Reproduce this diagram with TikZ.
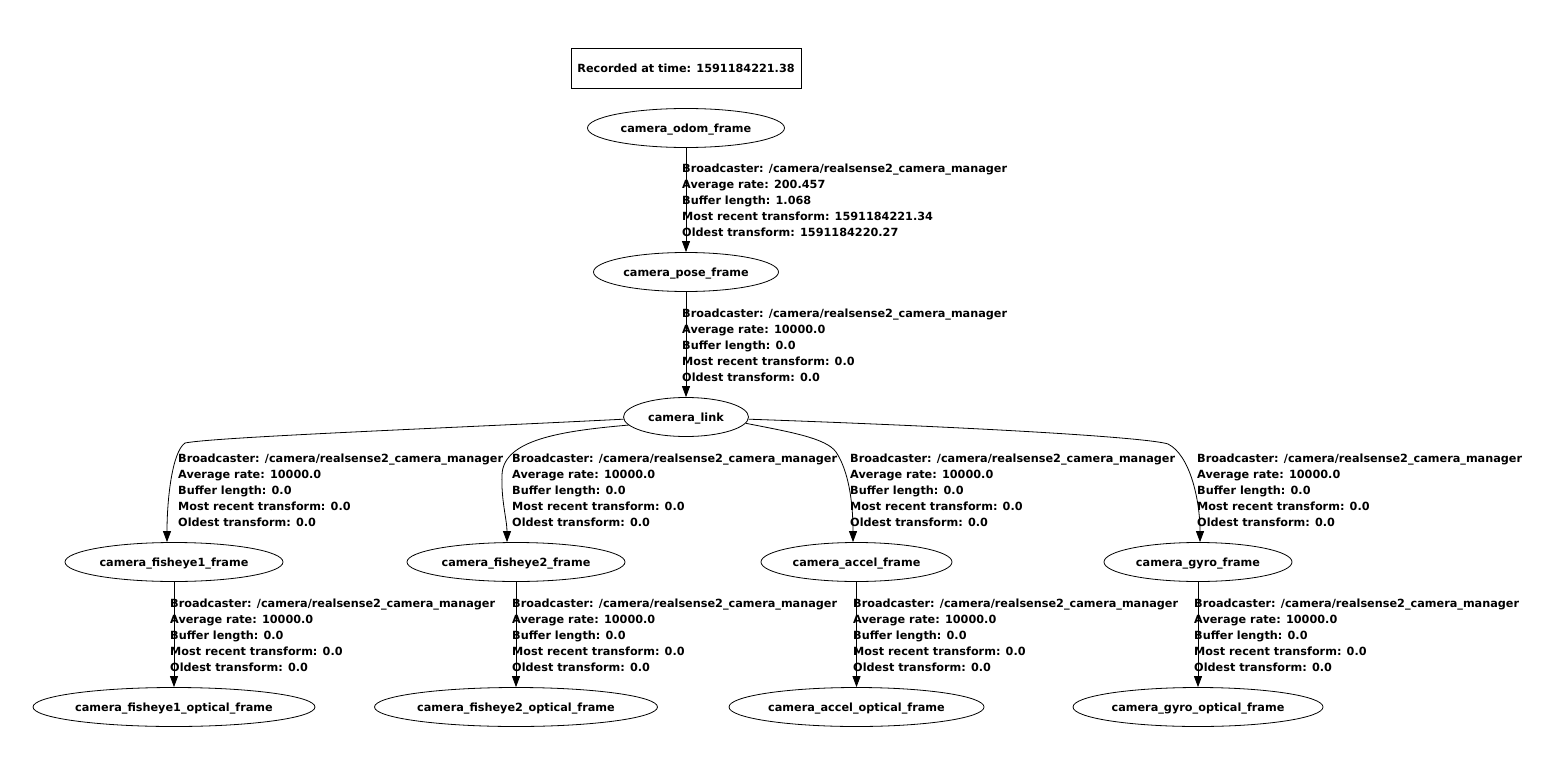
\documentclass[tikz,border=0pt]{standalone}
\usepackage{fontspec}
\setmainfont{DejaVu Sans}
\usetikzlibrary{shapes.geometric,arrows.meta,calc}
\newcommand{\bcline}{Broadcaster: /camera/realsense2\_camera\_manager}
\newcommand{\zerolbl}{\bcline\\Average rate: 10000.0\\Buffer length: 0.0\\Most recent transform: 0.0\\Oldest transform: 0.0}
\begin{document}
\begin{tikzpicture}[x=1pt,y=-1pt,
  every node/.style={font=\fontsize{11.25}{16}\selectfont\bfseries},
  frame/.style={ellipse,draw,line width=0.8pt,inner sep=0pt,minimum height=39pt,text depth=0pt},
  lbl/.style={anchor=north west,inner sep=0pt,align=left},
  tf/.style={draw,line width=0.8pt,-{Triangle[length=11pt,width=8pt]}},
]
\useasboundingbox (0,0) rectangle (1555,757);
\fill[white] (0,0) rectangle (1555,757);
\node[draw,line width=0.8pt,minimum width=230pt,minimum height=40pt,inner sep=0pt] (rec) at (686,68) {Recorded at time: 1591184221.38};
\node[frame,minimum width=197pt] (odom) at (686,128) {camera\_odom\_frame};
\node[frame,minimum width=185pt] (pose) at (686,272) {camera\_pose\_frame};
\node[frame,minimum width=125pt] (link) at (686,417) {camera\_link};
\node[frame,minimum width=218pt] (f1) at (174,562) {camera\_fisheye1\_frame};
\node[frame,minimum width=218pt] (f2) at (516,562) {camera\_fisheye2\_frame};
\node[frame,minimum width=191pt] (acc) at (856.5,562) {camera\_accel\_frame};
\node[frame,minimum width=188pt] (gyro) at (1198,562) {camera\_gyro\_frame};
\node[frame,minimum width=282pt] (f1o) at (174,707) {camera\_fisheye1\_optical\_frame};
\node[frame,minimum width=283pt] (f2o) at (516,707) {camera\_fisheye2\_optical\_frame};
\node[frame,minimum width=255pt] (acco) at (856.5,707) {camera\_accel\_optical\_frame};
\node[frame,minimum width=250pt] (gyroo) at (1198,707) {camera\_gyro\_optical\_frame};

\draw[tf] (odom) -- (pose);
\draw[tf] (pose) -- (link);
\draw[tf] (link.182) .. controls (450,428) and (215,437) .. (185,443) .. controls (172,452) and (167,500) .. ($(f1.north)+(-7,0)$);
\draw[tf] (link.188) .. controls (560,431) and (503,440) .. (502,475) .. controls (501,500) and (507,520) .. ($(f2.north)+(-9,0)$);
\draw[tf] (link.354) .. controls (790,432) and (826,438) .. (836,452) .. controls (848,470) and (853,500) .. ($(acc.north)+(-3.5,0)$);
\draw[tf] (link.358) .. controls (1000,428) and (1150,438) .. (1168,444) .. controls (1190,455) and (1200,500) .. ($(gyro.north)+(2,0)$);
\draw[tf] (f1) -- (f1o);
\draw[tf] (f2) -- (f2o);
\draw[tf] (acc) -- (acco);
\draw[tf] (gyro) -- (gyroo);

\node[lbl] (l1) at (682,163.5) {\bcline\\Average rate: 200.457\\Buffer length: 1.068\\Most recent transform: 1591184221.34\\Oldest transform: 1591184220.27};
\node[lbl] (l2) at (682,308.5) {\zerolbl};
\node[lbl] (l3) at (178,453.5) {\zerolbl};
\node[lbl] (l4) at (512,453.5) {\zerolbl};
\node[lbl] (l5) at (850,453.5) {\zerolbl};
\node[lbl] (l6) at (1197,453.5) {\zerolbl};
\node[lbl] (l7) at (170,598.5) {\zerolbl};
\node[lbl] (l8) at (512,598.5) {\zerolbl};
\node[lbl] (l9) at (853,598.5) {\zerolbl};
\node[lbl] (l10) at (1194,598.5) {\zerolbl};
\end{tikzpicture}
\end{document}
